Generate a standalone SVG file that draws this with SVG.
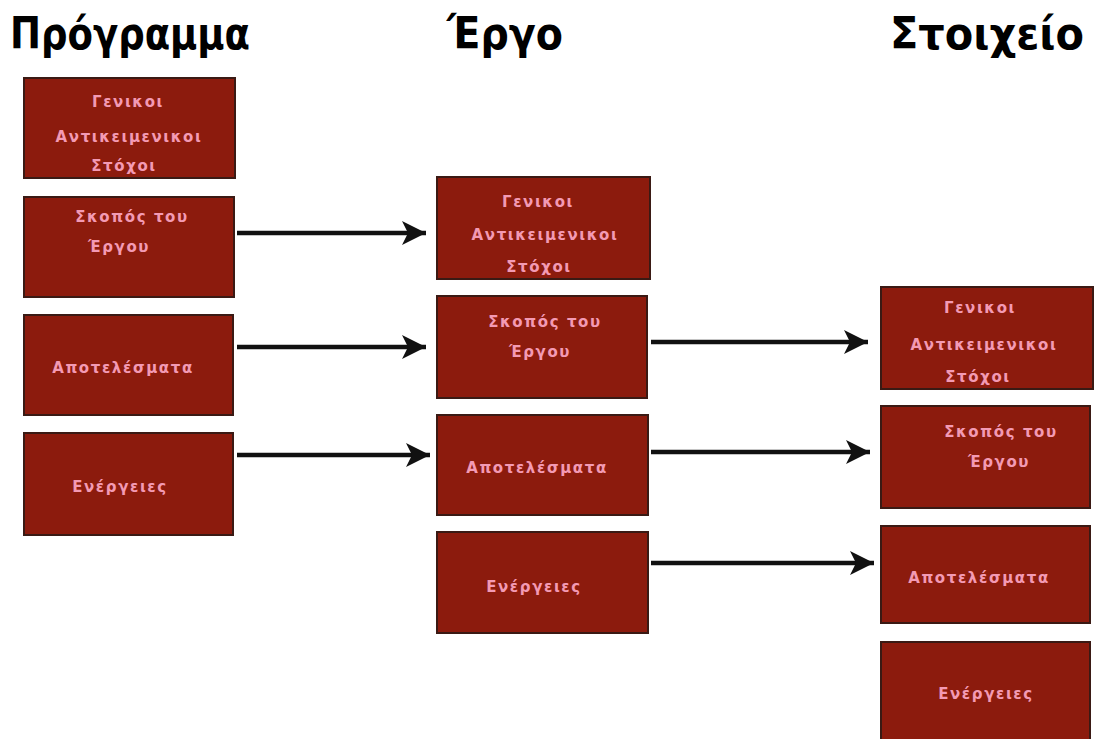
<svg xmlns="http://www.w3.org/2000/svg" width="1096" height="739" viewBox="0 0 1096 739">
<style>
.title{font-family:"DejaVu Sans","Liberation Sans",sans-serif;font-weight:bold;font-size:44px;fill:#000}
.box{fill:#8c1b0d;stroke:#3a1a14;stroke-width:2}
.lbl{font-family:"DejaVu Sans","Liberation Sans",sans-serif;font-weight:bold;font-size:15px;fill:#f39ab4;letter-spacing:1.6px;text-anchor:middle}
.conn{stroke:#111;stroke-width:4.5;fill:none}
</style>
<defs>
<marker id="ah" markerUnits="userSpaceOnUse" markerWidth="26" markerHeight="26" refX="24" refY="12" orient="auto">
<path d="M0,0 L24,12 L0,24 L6,12 z" fill="#111"/>
</marker>
</defs>
<rect width="1096" height="739" fill="#fff"/>
<g id="titles">
<text class="title" x="10" y="49" textLength="240" lengthAdjust="spacingAndGlyphs">Πρόγραμμα</text>
<text class="title" x="447" y="49" textLength="116" lengthAdjust="spacingAndGlyphs">Έργο</text>
<text class="title" x="890" y="49" textLength="194" lengthAdjust="spacingAndGlyphs">Στοιχείο</text>
</g>
<g id="p1"><rect class="box" x="24" y="78" width="211" height="100"/>
<text class="lbl" x="128" y="107">Γενικοι</text><text class="lbl" x="129" y="142">Αντικειμενικοι</text><text class="lbl" x="124" y="171">Στόχοι</text></g>
<g id="p2"><rect class="box" x="24" y="197" width="210" height="100"/>
<text class="lbl" x="132" y="222">Σκοπός του</text><text class="lbl" x="119" y="252">Έργου</text></g>
<g id="p3"><rect class="box" x="24" y="315" width="209" height="100"/>
<text class="lbl" x="123" y="373">Αποτελέσματα</text></g>
<g id="p4"><rect class="box" x="24" y="433" width="209" height="102"/>
<text class="lbl" x="120" y="492">Ενέργειες</text></g>
<g id="e1"><rect class="box" x="437" y="177" width="213" height="102"/>
<text class="lbl" x="538" y="207">Γενικοι</text><text class="lbl" x="545" y="240">Αντικειμενικοι</text><text class="lbl" x="539" y="272">Στόχοι</text></g>
<g id="e2"><rect class="box" x="437" y="296" width="210" height="102"/>
<text class="lbl" x="545" y="327">Σκοπός του</text><text class="lbl" x="540" y="357">Έργου</text></g>
<g id="e3"><rect class="box" x="437" y="415" width="211" height="100"/>
<text class="lbl" x="537" y="473">Αποτελέσματα</text></g>
<g id="e4"><rect class="box" x="437" y="532" width="211" height="101"/>
<text class="lbl" x="534" y="592">Ενέργειες</text></g>
<g id="s1"><rect class="box" x="881" y="287" width="212" height="102"/>
<text class="lbl" x="980" y="313">Γενικοι</text><text class="lbl" x="984" y="350">Αντικειμενικοι</text><text class="lbl" x="978" y="382">Στόχοι</text></g>
<g id="s2"><rect class="box" x="881" y="406" width="209" height="102"/>
<text class="lbl" x="1001" y="437">Σκοπός του</text><text class="lbl" x="999" y="467">Έργου</text></g>
<g id="s3"><rect class="box" x="881" y="526" width="209" height="97"/>
<text class="lbl" x="979" y="583">Αποτελέσματα</text></g>
<g id="s4"><rect class="box" x="881" y="642" width="209" height="110"/>
<text class="lbl" x="986" y="699">Ενέργειες</text></g>
<g id="connectors">
<line class="conn" x1="237" y1="233" x2="426" y2="233" marker-end="url(#ah)"/>
<line class="conn" x1="237" y1="347" x2="426" y2="347" marker-end="url(#ah)"/>
<line class="conn" x1="237" y1="455" x2="430" y2="455" marker-end="url(#ah)"/>
<line class="conn" x1="651" y1="342" x2="868" y2="342" marker-end="url(#ah)"/>
<line class="conn" x1="651" y1="452" x2="870" y2="452" marker-end="url(#ah)"/>
<line class="conn" x1="651" y1="563" x2="874" y2="563" marker-end="url(#ah)"/>
</g>
</svg>
